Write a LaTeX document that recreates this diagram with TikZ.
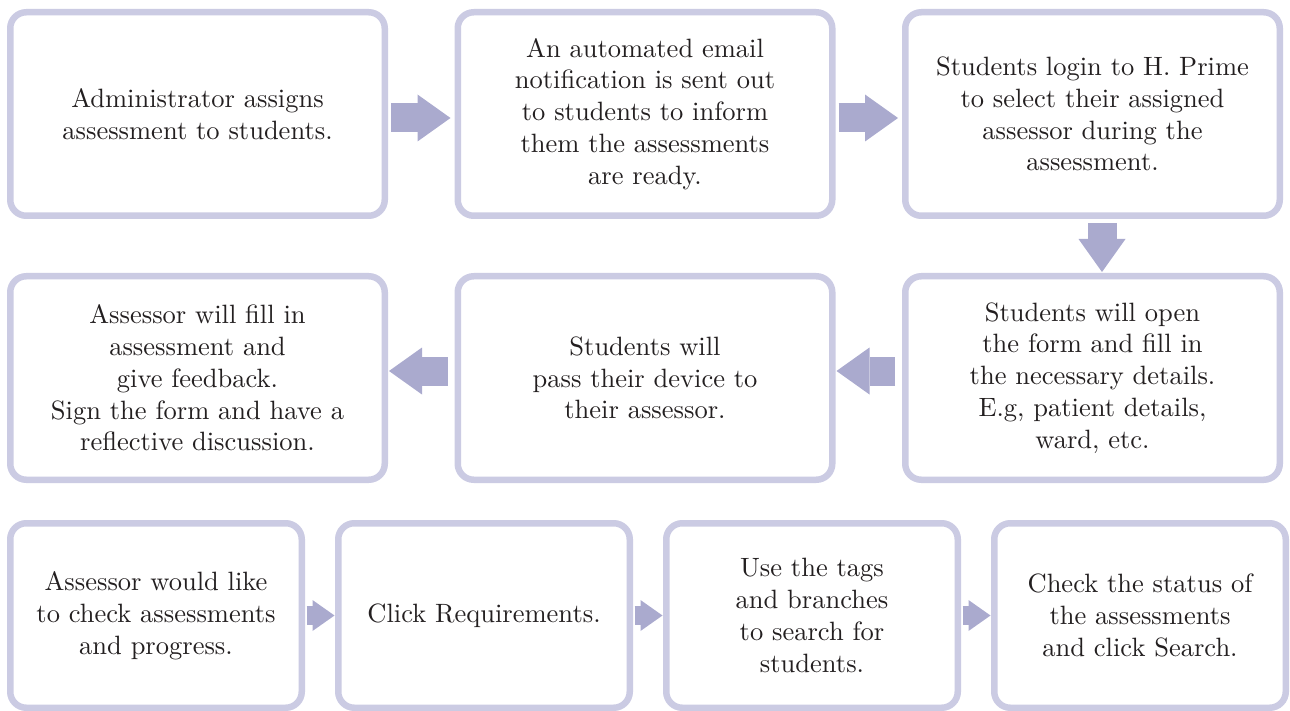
\documentclass[tikz,border=0pt]{standalone}
\usepackage{fontspec}
\usepackage{tikz}
\usetikzlibrary{positioning,arrows.meta}

% the 10pt design of Latin Modern, a little heavier than the big optical sizes
\newfontfamily\boxfont{lmroman10-regular}[Extension=.otf]

\definecolor{boxline}{RGB}{203,203,227}
\definecolor{arrowfill}{RGB}{170,170,206}
\definecolor{inkgray}{RGB}{35,31,32}

\begin{document}
\begin{tikzpicture}[
    x=1pt, y=1pt,
    stepbox/.style={draw=boxline, line width=6.5pt, rounded corners=16pt, fill=white,
        align=center, text=inkgray, inner sep=0pt, font=\boxfont\fontsize{26.5}{31.8}\selectfont},
    bigbox/.style={stepbox, minimum width=374.5pt, minimum height=203.5pt},
    smallbox/.style={stepbox, minimum width=291.5pt, minimum height=184.5pt},
    flow/.style={draw=arrowfill, line width=29pt,
        -{Triangle[length=33pt, width=47pt, line width=0pt]}},
    smallflow/.style={draw=arrowfill, line width=19pt,
        -{Triangle[length=22pt, width=31pt, line width=0pt]}}
]
    \useasboundingbox (0,0) rectangle (1290,-711);

    % first row
    \node[bigbox, anchor=north west] (assign) at (7,-9) {Administrator assigns\\assessment to students.};
    \node[bigbox, right=66.5pt of assign] (notify) {An automated email\\notification is sent out\\to students to inform\\them the assessments\\are ready.};
    \node[bigbox, right=66.5pt of notify] (login) {Students login to H. Prime\\to select their assigned\\assessor during the\\assessment.};

    % second row, runs right to left
    \node[bigbox, below=54pt of login] (details) {Students will open\\the form and fill in\\the necessary details.\\E.g, patient details,\\ward, etc.};
    \node[bigbox, left=66.5pt of details] (handover) {Students will\\pass their device to\\their assessor.};
    \node[bigbox, left=66.5pt of handover] (feedback) {Assessor will fill in\\assessment and\\give feedback.\\Sign the form and have a\\reflective discussion.};

    % third row
    \node[smallbox, below=37pt of feedback.south west, anchor=north west] (check) {Assessor would like\\to check assessments\\and progress.};
    \node[smallbox, right=30pt of check] (reqs) {Click Requirements.};
    \node[smallbox, right=30pt of reqs] (tags) {Use the tags\\and branches\\to search for\\students.};
    \node[smallbox, right=30pt of tags] (status) {Check the status of\\the assessments\\and click Search.};

    % block arrows
    \draw[flow, shorten <=3pt, shorten >=4pt] ([yshift=-4pt]assign.east) -- ([yshift=-4pt]notify.west);
    \draw[flow, shorten <=3pt, shorten >=4pt] ([yshift=-4pt]notify.east) -- ([yshift=-4pt]login.west);
    \draw[flow, shorten <=4pt, shorten >=1pt] ([xshift=9.5pt]login.south) -- ([xshift=9.5pt]details.north);
    \draw[flow, shorten <=7pt, shorten >=1pt] ([yshift=7pt]details.west) -- ([yshift=7pt]handover.east);
    \draw[flow, shorten <=7pt, shorten >=1pt] ([yshift=7pt]handover.west) -- ([yshift=7pt]feedback.east);

    \draw[smallflow, shorten <=1.5pt, shorten >=0.5pt] (check) -- (reqs);
    \draw[smallflow, shorten <=1.5pt, shorten >=0.5pt] (reqs) -- (tags);
    \draw[smallflow, shorten <=1.5pt, shorten >=0.5pt] (tags) -- (status);
\end{tikzpicture}
\end{document}
